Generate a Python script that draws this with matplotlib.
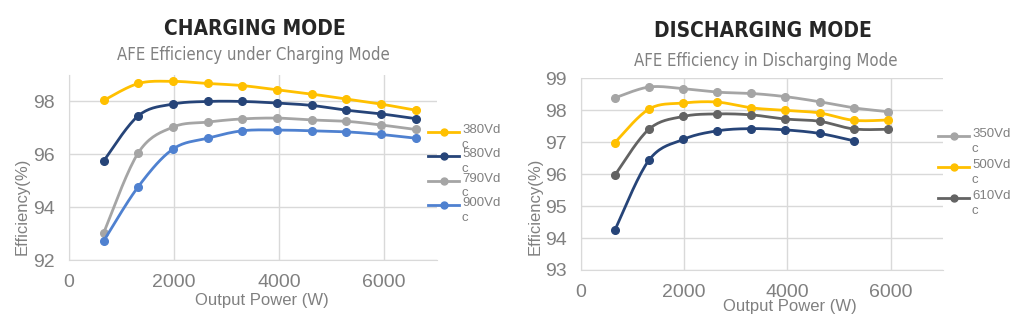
import numpy as np
import matplotlib
matplotlib.use("Agg")
import matplotlib.pyplot as plt
from matplotlib.lines import Line2D

# charging mode data
chg_power = [660, 1320, 1980, 2640, 3300, 3960, 4620, 5280, 5940, 6600]
chg_380 = [98.04, 98.68, 98.76, 98.68, 98.60, 98.44, 98.28, 98.09, 97.90, 97.67]
chg_580 = [95.75, 97.46, 97.90, 98.00, 98.00, 97.94, 97.85, 97.67, 97.53, 97.35]
chg_790 = [93.03, 96.06, 97.03, 97.22, 97.34, 97.37, 97.30, 97.25, 97.11, 96.94]
chg_900 = [92.72, 94.78, 96.20, 96.61, 96.89, 96.92, 96.89, 96.85, 96.75, 96.61]
chg_labels = ["380Vd\nc", "580Vd\nc", "790Vd\nc", "900Vd\nc"]

# discharging mode data
dis_power = [660, 1320, 1980, 2640, 3300, 3960, 4620, 5280, 5940]
dis_350 = [98.38, 98.72, 98.67, 98.56, 98.52, 98.42, 98.26, 98.07, 97.95]
dis_500 = [96.98, 98.03, 98.22, 98.25, 98.07, 97.99, 97.91, 97.68, 97.69]
dis_610 = [95.96, 97.40, 97.80, 97.88, 97.85, 97.72, 97.65, 97.41, 97.40]
dis_navy = [94.24, 96.43, 97.08, 97.35, 97.42, 97.38, 97.27, 97.04]
dis_labels = ["350Vd\nc", "500Vd\nc", "610Vd\nc"]

GOLD = "#ffc000"
NAVY = "#264478"
LGRAY = "#a5a5a5"
BLUE = "#4f81d0"
DGRAY = "#636363"
TXT = "#808080"
GRID = "#d9d9d9"

W, H = 1024, 322


def smooth(x, y, n=20):
    # bezier smoothing through every point, like office chart "smoothed line"
    x = np.asarray(x, float)
    y = np.asarray(y, float)
    px = np.concatenate([[x[0]], x, [x[-1]]])
    py = np.concatenate([[y[0]], y, [y[-1]]])
    xs, ys = [], []
    t = np.linspace(0, 1, n)
    for i in range(1, len(px) - 2):
        p0 = np.array([px[i], py[i]])
        p3 = np.array([px[i + 1], py[i + 1]])
        c1 = p0 + (np.array([px[i + 1], py[i + 1]]) - np.array([px[i - 1], py[i - 1]])) / 6
        c2 = p3 - (np.array([px[i + 2], py[i + 2]]) - np.array([px[i], py[i]])) / 6
        b = ((1 - t) ** 3)[:, None] * p0 + (3 * (1 - t) ** 2 * t)[:, None] * c1 \
            + (3 * (1 - t) * t ** 2)[:, None] * c2 + (t ** 3)[:, None] * p3
        xs.extend(b[:, 0])
        ys.extend(b[:, 1])
    return xs, ys


def series(ax, x, y, color):
    sx, sy = smooth(x, y)
    ax.plot(sx, sy, color=color, lw=2, solid_capstyle="round")
    ax.plot(x, y, "o", color=color, ms=5.5)


def legend(fig, x0, y0, dy, colors, labels):
    # hand-placed legend: line sample next to a wrapped label (pixel positions)
    for i, (c, lab) in enumerate(zip(colors, labels)):
        y = y0 + i * dy
        fig.add_artist(Line2D([x0 / W, (x0 + 31) / W], [1 - y / H] * 2,
                              transform=fig.transFigure, color=c, lw=2))
        fig.add_artist(Line2D([(x0 + 16) / W], [1 - y / H], marker="o", ms=5,
                              transform=fig.transFigure, color=c))
        fig.text((x0 + 34) / W, 1 - (y - 8) / H, lab, ha="left", va="top",
                 fontsize=9.5, color=TXT, linespacing=1.3)


def style(ax, ylim, yticks):
    ax.set_xlim(0, 7000)
    ax.set_ylim(*ylim)
    ax.set_xticks([0, 2000, 4000, 6000])
    ax.set_yticks(yticks)
    ax.grid(True, color=GRID, lw=1)
    ax.set_axisbelow(True)
    for s in ["top", "right"]:
        ax.spines[s].set_visible(False)
    for s in ["left", "bottom"]:
        ax.spines[s].set_color(GRID)
    ax.tick_params(length=0, labelsize=14, colors=TXT)
    ax.tick_params(axis="y", pad=10)
    ax.tick_params(axis="x", pad=10)
    ax.set_ylabel("Efficiency(%)", fontsize=12, color=TXT)
    ax.set_xlabel("Output Power (W)", fontsize=12, color=TXT)


plt.rcParams["font.family"] = ["Liberation Sans", "DejaVu Sans"]
fig = plt.figure(figsize=(10.24, 3.22), dpi=100)

ax1 = fig.add_axes([0.0674, 0.1925, 0.359, 0.5745])
chg_colors = [GOLD, NAVY, LGRAY, BLUE]
for vals, c in zip([chg_380, chg_580, chg_790, chg_900], chg_colors):
    series(ax1, chg_power, vals, c)
style(ax1, (92, 99), [92, 94, 96, 98])
ax1.yaxis.set_label_coords(-0.106, 0.29)
ax1.xaxis.set_label_coords(0.524, -0.18)
legend(fig, 428, 132, 24.3, chg_colors, chg_labels)

ax2 = fig.add_axes([0.567, 0.1615, 0.3535, 0.596])
dis_colors = [LGRAY, GOLD, DGRAY]
for vals, c in zip([dis_350, dis_500, dis_610], dis_colors):
    series(ax2, dis_power, vals, c)
series(ax2, dis_power[:len(dis_navy)], dis_navy, NAVY)
style(ax2, (93, 99), [93, 94, 95, 96, 97, 98, 99])
ax2.yaxis.set_label_coords(-0.105, 0.33)
ax2.xaxis.set_label_coords(0.577, -0.152)
legend(fig, 938, 136, 31, dis_colors, dis_labels)

title_kw = dict(ha="center", va="center", fontsize=15, fontweight="bold",
                color="#262626", family="DejaVu Sans", fontstretch="condensed")
sub_kw = dict(ha="center", va="center", fontsize=12, color=TXT,
              family="DejaVu Sans", fontstretch="condensed")
fig.text(0.249, 0.91, "CHARGING MODE", **title_kw)
fig.text(0.247, 0.83, "AFE Efficiency under Charging Mode", **sub_kw)
fig.text(0.745, 0.905, "DISCHARGING MODE", **title_kw)
fig.text(0.748, 0.812, "AFE Efficiency in Discharging Mode", **sub_kw)

fig.savefig("out.png", dpi=100)
